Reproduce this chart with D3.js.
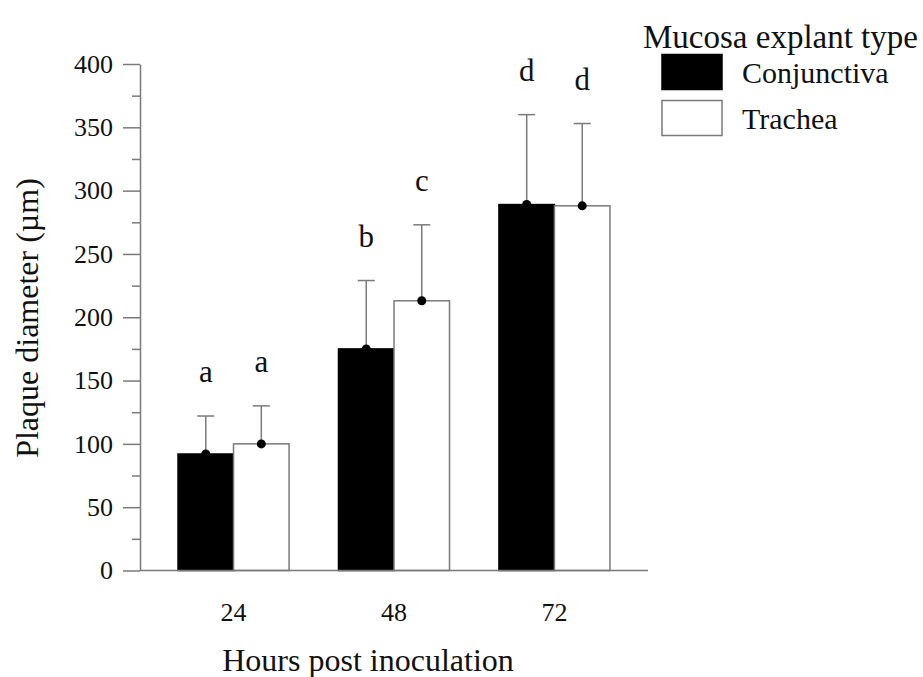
<!DOCTYPE html>
<html><head><meta charset="utf-8">
<script src="https://cdn.jsdelivr.net/npm/d3@7"></script>
<style>body{margin:0;background:#fff}svg{display:block}text{font-family:"Liberation Serif","Times New Roman",serif;fill:#111}</style>
</head><body>
<svg id="c" width="923" height="677"></svg>
<script>
const hours = ["24", "48", "72"];
const series = ["Conjunctiva", "Trachea"];
const conjunctivaMean = [92, 175, 289];
const tracheaMean = [100, 213, 288];
const conjunctivaUpper = [122, 229, 360];
const tracheaUpper = [130, 273, 353];
const conjunctivaLetters = ["a", "b", "d"];
const tracheaLetters = ["a", "c", "d"];
const yMajorTicks = [0, 50, 100, 150, 200, 250, 300, 350, 400];
const yMinorTicks = [25, 75, 125, 175, 225, 275, 325, 375];

const rows = [];
hours.forEach((h, i) => {
  rows.push({h, s: series[0], v: conjunctivaMean[i], up: conjunctivaUpper[i], L: conjunctivaLetters[i]});
  rows.push({h, s: series[1], v: tracheaMean[i], up: tracheaUpper[i], L: tracheaLetters[i]});
});

const svg = d3.select("#c");

const x0 = d3.scaleBand().domain(hours).range([140, 648]).paddingInner(0.308).paddingOuter(0.237);
const x1 = d3.scaleBand().domain(series).range([0, x0.bandwidth()]);
const y = d3.scaleLinear().domain([0, 400]).range([570.5, 64]);
const fill = d3.scaleOrdinal().domain(series).range(["#000", "#fff"]);
const grey = "#7a7a7a";

// Y axis minor
const gMin = svg.append("g").attr("transform", "translate(140,0)")
  .call(d3.axisLeft(y).tickValues(yMinorTicks).tickSize(8).tickSizeOuter(0).tickFormat(""));
gMin.select(".domain").remove();
gMin.selectAll("line").attr("stroke", grey).attr("stroke-width", 1.5);

// Y axis major
const gY = svg.append("g").attr("transform", "translate(140,0)")
  .call(d3.axisLeft(y).tickValues(yMajorTicks).tickSize(17).tickSizeOuter(0).tickPadding(10));
gY.select(".domain").attr("stroke", grey).attr("stroke-width", 1.5);
gY.selectAll("line").attr("stroke", grey).attr("stroke-width", 1.5);
gY.selectAll("text").attr("font-size", 26).attr("fill", "#111");

// Bars
const g = svg.append("g");
g.selectAll("rect.bar").data(rows).join("rect").attr("class", "bar")
  .attr("x", d => x0(d.h) + x1(d.s))
  .attr("y", d => y(d.v))
  .attr("width", x1.bandwidth())
  .attr("height", d => y(0) - y(d.v))
  .attr("fill", d => fill(d.s))
  .attr("stroke", d => d.s === series[0] ? "#000" : grey)
  .attr("stroke-width", 1.5);

// Error bars
const cx = d => x0(d.h) + x1(d.s) + x1.bandwidth() / 2;
g.selectAll("line.err").data(rows).join("line").attr("class", "err")
  .attr("x1", cx).attr("x2", cx).attr("y1", d => y(d.v)).attr("y2", d => y(d.up))
  .attr("stroke", grey).attr("stroke-width", 1.5);
g.selectAll("line.cap").data(rows).join("line").attr("class", "cap")
  .attr("x1", d => cx(d) - 8.5).attr("x2", d => cx(d) + 8.5).attr("y1", d => y(d.up)).attr("y2", d => y(d.up))
  .attr("stroke", grey).attr("stroke-width", 1.5);
g.selectAll("circle.dot").data(rows).join("circle").attr("class", "dot")
  .attr("cx", cx).attr("cy", d => y(d.v)).attr("r", 4.5).attr("fill", "#000");

// Significance letters
g.selectAll("text.sig").data(rows).join("text").attr("class", "sig")
  .attr("x", cx).attr("y", d => y(d.up) - 34).attr("text-anchor", "middle")
  .attr("font-size", 31).text(d => d.L);

// X axis
svg.append("line").attr("x1", 140).attr("x2", 648).attr("y1", y(0)).attr("y2", y(0))
  .attr("stroke", grey).attr("stroke-width", 1.5);
svg.append("g").selectAll("text").data(hours).join("text")
  .attr("x", d => x0(d) + x0.bandwidth() / 2).attr("y", 621).attr("text-anchor", "middle")
  .attr("font-size", 26).text(d => d);

// Axis titles
svg.append("text").attr("x", 368).attr("y", 671).attr("text-anchor", "middle")
  .attr("font-size", 32).text("Hours post inoculation");
svg.append("text").attr("transform", "translate(38,318) rotate(-90)")
  .attr("text-anchor", "middle").attr("font-size", 32).text("Plaque diameter (µm)");

// Legend
const lg = svg.append("g");
lg.append("text").attr("x", 643).attr("y", 48).attr("font-size", 33).text("Mucosa explant type");
const lrow = lg.selectAll("g.li").data(series).join("g").attr("class", "li")
  .attr("transform", (d, i) => `translate(662,${54.5 + i * 46})`);
lrow.append("rect").attr("width", 60).attr("height", 35)
  .attr("fill", d => fill(d)).attr("stroke", d => d === series[0] ? "#000" : grey).attr("stroke-width", 1.5);
lrow.append("text").attr("x", 80).attr("y", 28.5).attr("font-size", 30).text(d => d);
</script>
</body></html>
